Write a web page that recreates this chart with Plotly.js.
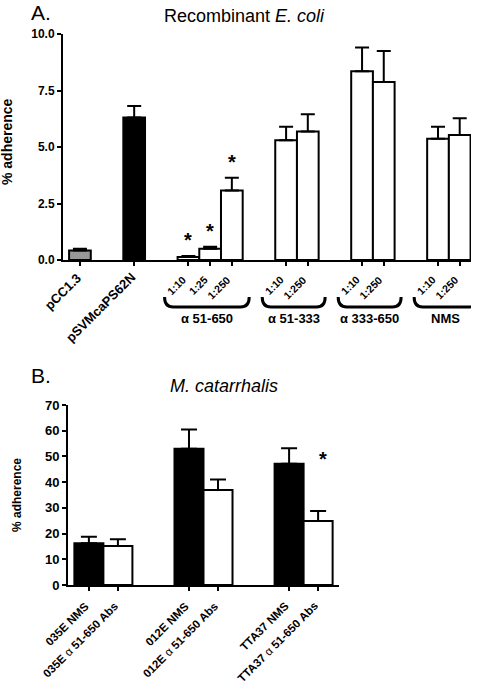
<!DOCTYPE html>
<html>
<head>
<meta charset="utf-8">
<script src="https://cdn.plot.ly/plotly-3.0.1.min.js"></script>
<style>html,body{margin:0;padding:0;background:#fff}#chart{width:480px;height:686px}</style>
</head>
<body>
<div id="chart"></div>
<script>
// ---------- Panel A data ----------
var labelsA = ['pCC1.3', 'pSVMcaPS62N', '1:10', '1:25', '1:250', '1:10', '1:250', '1:10', '1:250', '1:10', '1:250'];
var groupOfA = [0, 1, 2, 2, 2, 3, 3, 4, 4, 5, 5];
var groupNamesA = ['', '', 'α 51-650', 'α 51-333', 'α 333-650', 'NMS'];
var valuesA = [0.42, 6.31, 0.13, 0.50, 3.07, 5.30, 5.69, 8.35, 7.88, 5.37, 5.53];
var errorsA = [0.08, 0.50, 0.05, 0.09, 0.57, 0.60, 0.76, 1.05, 1.37, 0.53, 0.74];
var fillA = ['#999999', '#000000', '#ffffff', '#ffffff', '#ffffff', '#ffffff', '#ffffff', '#ffffff', '#ffffff', '#ffffff', '#ffffff'];
var starA = [false, false, true, true, true, false, false, false, false, false, false];

// ---------- Panel B data ----------
var strainB = ['035E', '035E', '012E', '012E', 'TTA37', 'TTA37'];
var serumB = ['NMS', 'α 51-650 Abs', 'NMS', 'α 51-650 Abs', 'NMS', 'α 51-650 Abs'];
var valuesB = [16.2, 15.2, 53.0, 36.9, 47.2, 24.9];
var errorsB = [2.6, 2.6, 7.5, 4.1, 6.0, 3.9];
var fillB = ['#000000', '#ffffff', '#000000', '#ffffff', '#000000', '#ffffff'];
var starB = [null, null, null, null, null, 50];

// ---------- positions (layout rule: 1 unit within group, larger step between groups) ----------
function positions(groups, gap) {
  var p = [], x = 0;
  for (var i = 0; i < groups.length; i++) {
    if (i > 0) x += (groups[i] === groups[i - 1]) ? 1 : gap;
    p.push(x);
  }
  return p;
}
var xA = positions(groupOfA, 2.5);
var xB = positions(strainB, 2.45);

var FONT = 'Arial, "Liberation Sans", Helvetica, sans-serif';
var H = 686;
function py(pixY) { return 1 - pixY / H; }

var traces = [
  {
    type: 'bar', x: xA, y: valuesA, width: 1, xaxis: 'x', yaxis: 'y',
    marker: {color: fillA, line: {color: '#000', width: 2}},
    error_y: {type: 'data', symmetric: false, array: errorsA, arrayminus: errorsA.map(function(){return 0;}),
              color: '#000', thickness: 2, width: 7},
    hoverinfo: 'none', showlegend: false
  },
  {
    type: 'bar', x: xB, y: valuesB, width: 1, xaxis: 'x2', yaxis: 'y2',
    marker: {color: fillB, line: {color: '#000', width: 2}},
    error_y: {type: 'data', symmetric: false, array: errorsB, arrayminus: errorsB.map(function(){return 0;}),
              color: '#000', thickness: 2, width: 8},
    hoverinfo: 'none', showlegend: false
  }
];

var annotations = [];
var shapes = [];

// rotated x labels panel A
for (var a = 0; a < labelsA.length; a++) {
  var big = groupOfA[a] < 2;
  annotations.push({xref: 'x', yref: 'paper', x: xA[a], y: py(big ? 267 : 271),
    xanchor: 'right', yanchor: 'top', textangle: -45, showarrow: false,
    xshift: big ? 7 : 3, text: '<b>' + labelsA[a] + '</b>',
    font: {family: FONT, size: big ? 13 : 10.5, color: '#000'}});
}
// rotated x labels panel B
for (var b = 0; b < strainB.length; b++) {
  var t = serumB[b] === 'NMS' ? '<b>' + strainB[b] + ' NMS</b>'
        : '<b>' + strainB[b] + '</b> α <b>' + serumB[b].replace('α ', '') + '</b>';
  annotations.push({xref: 'x2', yref: 'paper', x: xB[b], y: py(597),
    xanchor: 'right', yanchor: 'top', textangle: -45, showarrow: false,
    xshift: 5, text: t, font: {family: FONT, size: 11.5, color: '#000'}});
}

// stars panel A
for (var i = 0; i < xA.length; i++) {
  if (starA[i]) {
    annotations.push({xref: 'x', yref: 'y', x: xA[i], y: valuesA[i] + errorsA[i], xanchor: 'center', yanchor: 'bottom',
      text: '<b>*</b>', showarrow: false, yshift: 3, font: {family: FONT, size: 20, color: '#000'}});
  }
}
// star panel B
for (var j = 0; j < xB.length; j++) {
  if (starB[j] !== null) {
    annotations.push({xref: 'x2', yref: 'y2', x: xB[j], y: starB[j], xanchor: 'center', yanchor: 'middle',
      text: '<b>*</b>', showarrow: false, xshift: 5, yshift: -3, font: {family: FONT, size: 20, color: '#000'}});
  }
}

// brackets + group names panel A
var yTop = py(297), yBot = py(307);
for (var g = 2; g < groupNamesA.length; g++) {
  var idx = [];
  for (var k = 0; k < groupOfA.length; k++) if (groupOfA[k] === g) idx.push(k);
  var xL = xA[idx[0]] - 1.1, xR = xA[idx[idx.length - 1]] + 0.8;
  var r = 0.4;
  shapes.push({type: 'path', xref: 'x', yref: 'paper',
    path: 'M ' + xL + ',' + yTop + ' Q ' + xL + ',' + yBot + ' ' + (xL + r) + ',' + yBot +
          ' L ' + (xR - r) + ',' + yBot + ' Q ' + xR + ',' + yBot + ' ' + xR + ',' + yTop,
    line: {color: '#000', width: 3}});
  annotations.push({xref: 'x', yref: 'paper', x: (xL + xR) / 2, y: py(319), xanchor: 'center', yanchor: 'middle',
    text: '<b>' + groupNamesA[g] + '</b>', showarrow: false, font: {family: FONT, size: 13, color: '#000'}});
}

// titles and panel letters
annotations.push({xref: 'paper', yref: 'paper', x: 41 / 480, y: 1, xanchor: 'center', yanchor: 'top', borderpad: 0,
  text: 'A.', showarrow: false, font: {family: FONT, size: 21, color: '#000'}});
annotations.push({xref: 'paper', yref: 'paper', x: 245 / 480, y: py(16), xanchor: 'center', yanchor: 'middle',
  text: 'Recombinant <i>E. coli</i>', showarrow: false, font: {family: FONT, size: 18, color: '#000'}});
annotations.push({xref: 'paper', yref: 'paper', x: 41 / 480, y: py(375), xanchor: 'center', yanchor: 'middle',
  text: 'B.', showarrow: false, font: {family: FONT, size: 21, color: '#000'}});
annotations.push({xref: 'paper', yref: 'paper', x: 224 / 480, y: py(386), xanchor: 'center', yanchor: 'middle',
  text: '<i>M. catarrhalis</i>', showarrow: false, font: {family: FONT, size: 18, color: '#000'}});
// y-axis titles
annotations.push({xref: 'paper', yref: 'paper', x: 7 / 480, y: py(142), xanchor: 'center', yanchor: 'middle',
  textangle: -90, text: '<b>% adherence</b>', showarrow: false, font: {family: FONT, size: 14, color: '#000'}});
annotations.push({xref: 'paper', yref: 'paper', x: 17 / 480, y: py(495), xanchor: 'center', yanchor: 'middle',
  textangle: -90, text: '<b>% adherence</b>', showarrow: false, font: {family: FONT, size: 12, color: '#000'}});

var axisCommon = {showline: true, linecolor: '#000', linewidth: 2, ticks: 'outside', ticklen: 4, tickwidth: 2,
  tickcolor: '#000', showgrid: false, zeroline: false, fixedrange: true, automargin: false};

var layout = {
  width: 480, height: 686,
  margin: {l: 0, r: 0, t: 0, b: 0},
  paper_bgcolor: '#fff', plot_bgcolor: 'rgba(0,0,0,0)',
  font: {family: FONT, color: '#000'},
  bargap: 0,
  xaxis: Object.assign({}, axisCommon, {domain: [63 / 480, 471 / 480], anchor: 'y', range: [-0.78, 18.02],
    tickmode: 'array', tickvals: xA, showticklabels: false}),
  yaxis: Object.assign({}, axisCommon, {domain: [py(260), py(34)], anchor: 'x', range: [0, 10],
    tickmode: 'array', tickvals: [0, 2.5, 5, 7.5, 10], tickformat: '.1f',
    tickfont: {family: FONT, size: 12, weight: 'bold', color: '#000'}}),
  xaxis2: Object.assign({}, axisCommon, {domain: [68 / 480, 339 / 480], anchor: 'y2', range: [-0.72, 8.62],
    tickmode: 'array', tickvals: xB, showticklabels: false}),
  yaxis2: Object.assign({}, axisCommon, {domain: [py(585), py(405)], anchor: 'x2', range: [0, 70],
    tickmode: 'array', tickvals: [0, 10, 20, 30, 40, 50, 60, 70],
    tickfont: {family: FONT, size: 13, weight: 'bold', color: '#000'}}),
  annotations: annotations,
  shapes: shapes
};

Plotly.newPlot('chart', traces, layout, {displayModeBar: false, staticPlot: true});
</script>
</body>
</html>
